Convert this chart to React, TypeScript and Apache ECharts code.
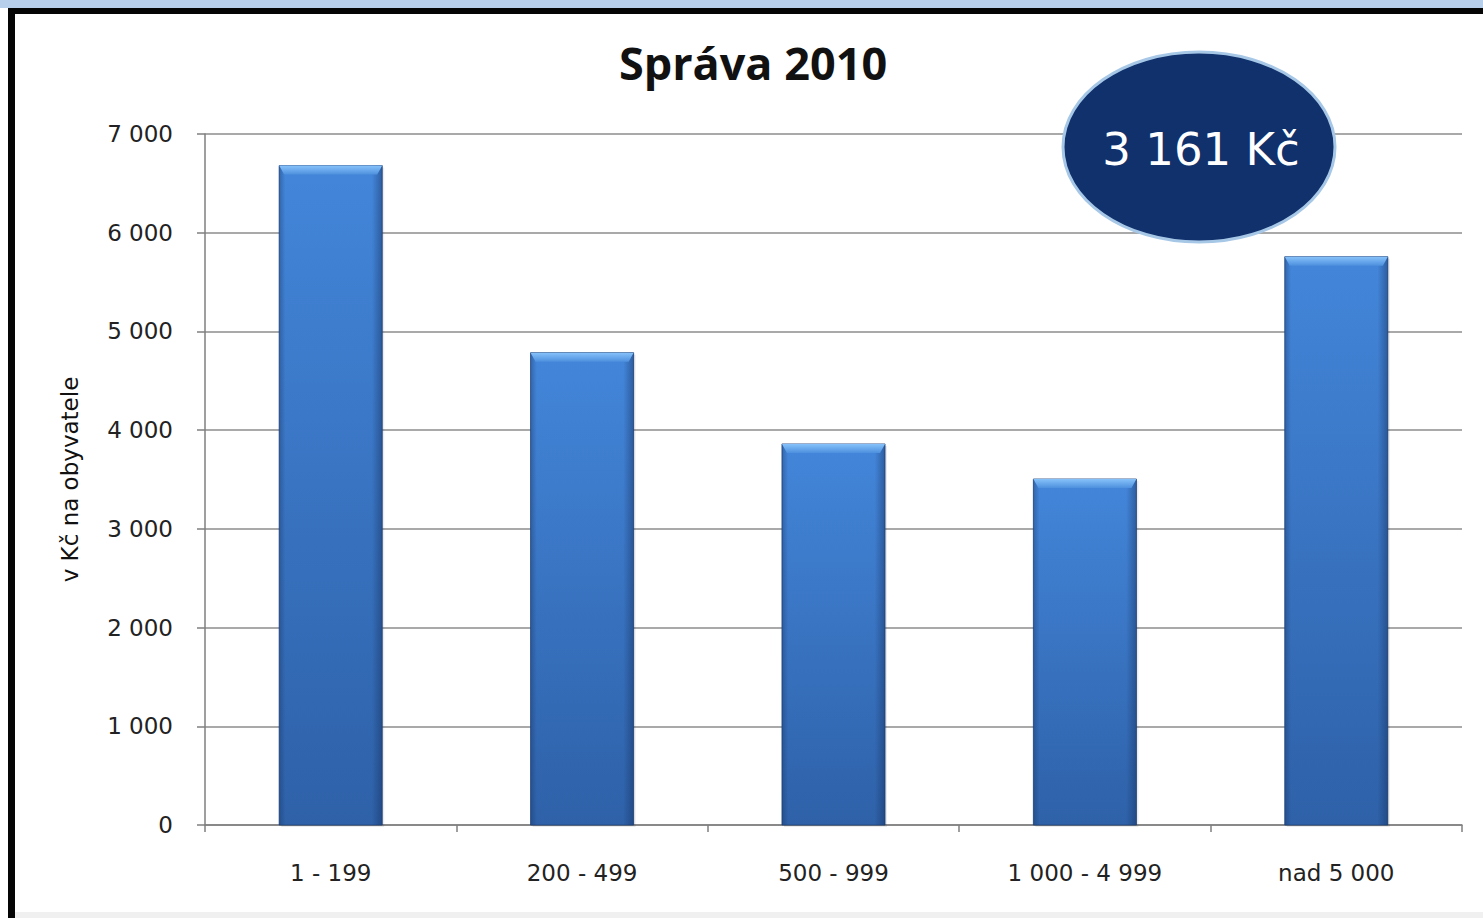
import React, { useEffect, useRef } from "react";
import * as echarts from "echarts";

const categories = ["1 - 199", "200 - 499", "500 - 999", "1 000 - 4 999", "nad 5 000"];
const values = [6680, 4785, 3860, 3505, 5757];
const titleText = "Správa 2010";
const yAxisName = "v Kč na obyvatele";
const badgeText = "3 161 Kč";

const fmt = (v: number) => String(v).replace(/\B(?=(\d{3})+(?!\d))/g, " ");

export default function App() {
  const ref = useRef<HTMLDivElement>(null);
  useEffect(() => {
    if (!ref.current) return;
    const chart = echarts.init(ref.current, null, { renderer: "svg" });
    const option: any = {
      animation: false,
      backgroundColor: "#ffffff",
      title: {
        text: titleText,
        left: 748,
        textAlign: "center",
        top: 35,
        textStyle: { fontFamily: "Open Sans", fontWeight: "bold", fontSize: 45, color: "#111" },
      },
      grid: { left: 205, right: 21, top: 134, bottom: 93 },
      xAxis: {
        type: "category",
        data: categories,
        axisLine: { show: true, lineStyle: { color: "#7f7f7f", width: 1.5 } },
        axisTick: { show: true, length: 7, lineStyle: { color: "#7f7f7f", width: 1.5 } },
        axisLabel: { margin: 36, fontFamily: "DejaVu Sans", fontSize: 23, color: "#222" },
      },
      yAxis: {
        type: "value",
        min: 0,
        max: 7000,
        interval: 1000,
        name: yAxisName,
        nameLocation: "middle",
        nameGap: 124,
        nameRotate: 90,
        nameTextStyle: { fontFamily: "DejaVu Sans", fontSize: 23, color: "#111" },
        axisLine: { show: true, lineStyle: { color: "#7f7f7f", width: 1.5 } },
        axisTick: { show: true, length: 8, lineStyle: { color: "#7f7f7f", width: 1.5 } },
        axisLabel: { margin: 32, fontFamily: "DejaVu Sans", fontSize: 23, color: "#222", formatter: (v: number) => fmt(v) },
        splitLine: { show: true, lineStyle: { color: "#8c8c8c", width: 1.5 } },
      },
      series: [
        {
          type: "custom",
          encode: { x: 0, y: 1 },
          data: values.map((v, i) => [i, v]),
          renderItem: (params: any, api: any) => {
            const i = api.value(0);
            const v = api.value(1);
            const top = api.coord([i, v]);
            const base = api.coord([i, 0]);
            const bw = api.size([1, 0])[0] * 0.41;
            const x = top[0] - bw / 2;
            const y = top[1];
            const h = base[1] - top[1];
            const cap = 9;
            return {
              type: "group",
              children: [
                {
                  type: "rect",
                  shape: { x: x + 2, y: y + 2, width: bw, height: h },
                  style: { fill: "rgba(0,0,0,0.08)" },
                },
                {
                  type: "rect",
                  shape: { x, y, width: bw, height: h },
                  style: {
                    fill: new echarts.graphic.LinearGradient(0, 0, 0, 1, [
                      { offset: 0, color: "#4386da" },
                      { offset: 1, color: "#2e61a8" },
                    ]),
                    stroke: "rgba(35,70,125,0.8)",
                    lineWidth: 1,
                  },
                },
                {
                  type: "rect",
                  shape: { x, y, width: bw, height: h },
                  style: {
                    fill: new echarts.graphic.LinearGradient(0, 0, 1, 0, [
                      { offset: 0, color: "rgba(20,45,90,0.35)" },
                      { offset: 0.06, color: "rgba(20,45,90,0)" },
                      { offset: 0.9, color: "rgba(20,45,90,0)" },
                      { offset: 1, color: "rgba(20,45,90,0.45)" },
                    ]),
                  },
                },
                {
                  type: "polygon",
                  shape: {
                    points: [
                      [x, y],
                      [x + bw, y],
                      [x + bw - 5, y + cap],
                      [x + 5, y + cap],
                    ],
                  },
                  style: {
                    fill: new echarts.graphic.LinearGradient(0, 0, 0, 1, [
                      { offset: 0, color: "#86c2fa" },
                      { offset: 1, color: "#4e90de" },
                    ]),
                  },
                },
              ],
            };
          },
        },
      ],
      graphic: [
        { type: "rect", z: 50, shape: { x: 0, y: 0, width: 1483, height: 8 }, style: { fill: "#b7cfea" } },
        { type: "rect", z: 50, shape: { x: 8, y: 8, width: 1475, height: 6 }, style: { fill: "#050505" } },
        { type: "rect", z: 50, shape: { x: 8, y: 8, width: 7, height: 910 }, style: { fill: "#050505" } },
        { type: "rect", z: 50, shape: { x: 15, y: 912, width: 1468, height: 6 }, style: { fill: "#f0f0f0" } },
        {
          type: "ellipse",
          z: 100,
          shape: { cx: 1199, cy: 147, rx: 136, ry: 95 },
          style: { fill: "#10316c", stroke: "#a7c7e7", lineWidth: 3 },
        },
        {
          type: "text",
          z: 101,
          x: 1201,
          y: 149,
          style: {
            text: badgeText,
            fill: "#ffffff",
            fontFamily: "DejaVu Sans",
            fontSize: 45,
            textAlign: "center",
            textVerticalAlign: "middle",
          },
        },
      ],
    };
    chart.setOption(option);
    return () => chart.dispose();
  }, []);
  return (
    <div
      ref={ref}
      style={{ position: "fixed", left: 0, top: 0, width: 1483, height: 918 }}
    />
  );
}
